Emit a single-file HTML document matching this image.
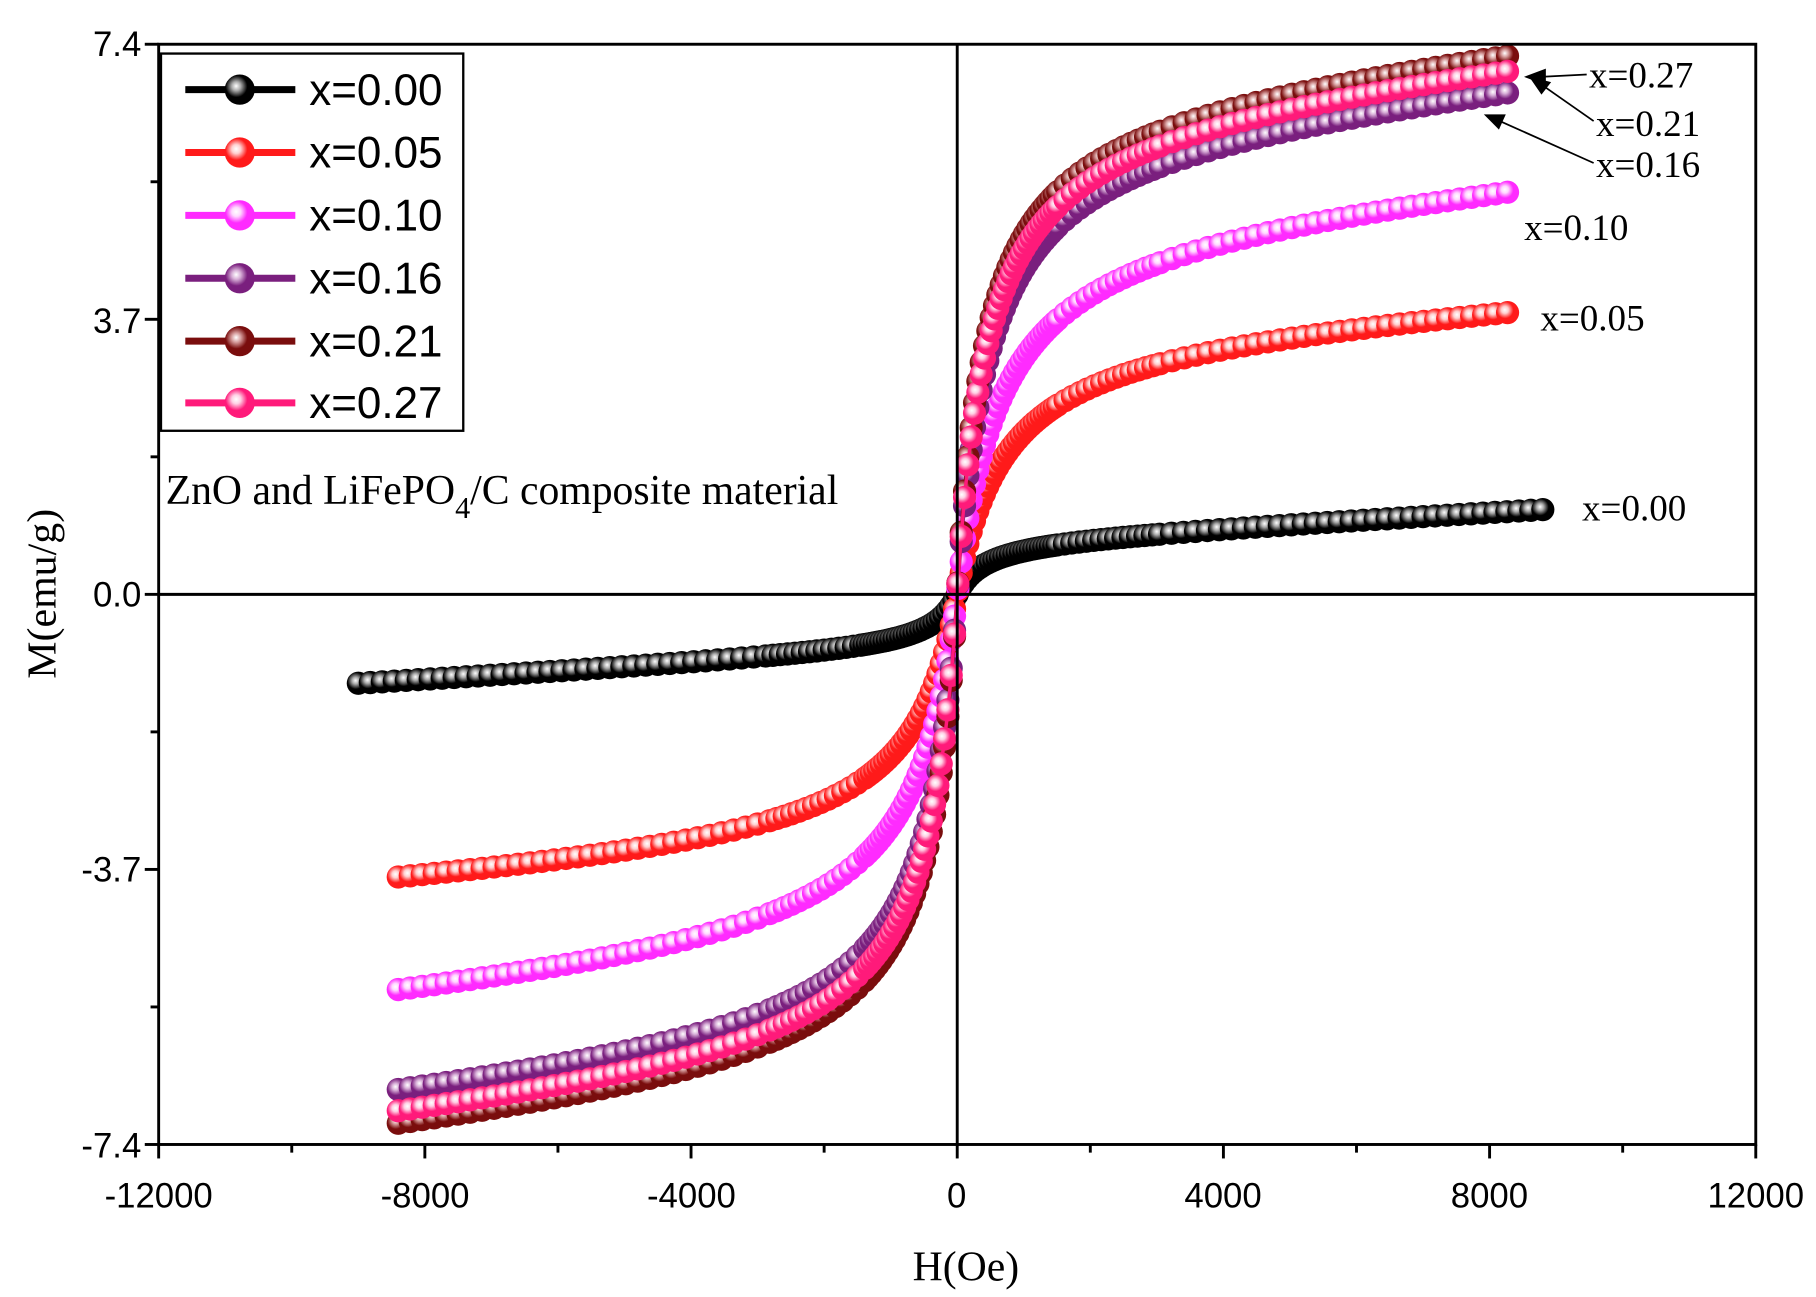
<!DOCTYPE html>
<html><head><meta charset="utf-8"><style>html,body{margin:0;padding:0;background:#fff;overflow:hidden}svg{display:block}</style></head>
<body>
<svg id="s" width="1816" height="1297" viewBox="0 0 1568 1114" preserveAspectRatio="none" xmlns="http://www.w3.org/2000/svg">
<defs>
<radialGradient id="g0" cx="0.4" cy="0.4" r="0.6" fx="0.38" fy="0.38"><stop offset="0" stop-color="#fff"/><stop offset="0.25" stop-color="#aaaaaa"/><stop offset="0.6" stop-color="#000"/><stop offset="1" stop-color="#000"/></radialGradient>
<radialGradient id="g1" cx="0.4" cy="0.4" r="0.6" fx="0.38" fy="0.38"><stop offset="0" stop-color="#fff"/><stop offset="0.25" stop-color="#ffd0d0"/><stop offset="0.6" stop-color="#ff1a1a"/><stop offset="1" stop-color="#ff1a1a"/></radialGradient>
<radialGradient id="g2" cx="0.4" cy="0.4" r="0.6" fx="0.38" fy="0.38"><stop offset="0" stop-color="#fff"/><stop offset="0.25" stop-color="#ffd8ff"/><stop offset="0.6" stop-color="#ff2bff"/><stop offset="1" stop-color="#ff2bff"/></radialGradient>
<radialGradient id="g3" cx="0.4" cy="0.4" r="0.6" fx="0.38" fy="0.38"><stop offset="0" stop-color="#fff"/><stop offset="0.25" stop-color="#d8b0d8"/><stop offset="0.6" stop-color="#7a1f7e"/><stop offset="1" stop-color="#7a1f7e"/></radialGradient>
<radialGradient id="g4" cx="0.4" cy="0.4" r="0.6" fx="0.38" fy="0.38"><stop offset="0" stop-color="#fff"/><stop offset="0.25" stop-color="#d8a0a0"/><stop offset="0.6" stop-color="#7a0d0d"/><stop offset="1" stop-color="#7a0d0d"/></radialGradient>
<radialGradient id="g5" cx="0.4" cy="0.4" r="0.6" fx="0.38" fy="0.38"><stop offset="0" stop-color="#fff"/><stop offset="0.25" stop-color="#ffd0e4"/><stop offset="0.6" stop-color="#ff1a7a"/><stop offset="1" stop-color="#ff1a7a"/></radialGradient>
</defs>
<rect x="0" y="0" width="1568" height="1114" fill="#fff"/>
<g id="curves"></g>
<g stroke="#000" stroke-width="2.5" fill="none">
<rect x="137" y="38" width="1379" height="945"/>
<line x1="826.5" y1="38" x2="826.5" y2="983"/>
<line x1="137" y1="510.5" x2="1516" y2="510.5"/>
</g>
<g id="ticks" stroke="#000" stroke-width="2.5"></g>
<g font-family="Liberation Sans, sans-serif" font-size="30" text-anchor="end">
<text x="122" y="48">7.4</text><text x="122" y="286">3.7</text><text x="122" y="521">0.0</text><text x="122" y="757">-3.7</text><text x="122" y="994">-7.4</text>
</g>
<g font-family="Liberation Sans, sans-serif" font-size="30" text-anchor="middle">
<text x="137" y="1037">-12000</text><text x="367" y="1037">-8000</text><text x="597" y="1037">-4000</text><text x="826" y="1037">0</text><text x="1056" y="1037">4000</text><text x="1286" y="1037">8000</text><text x="1516" y="1037">12000</text>
</g>
<text x="834" y="1100" font-family="Liberation Serif, serif" font-size="36" text-anchor="middle">H(Oe)</text>
<text transform="translate(48,510) rotate(-90)" font-family="Liberation Serif, serif" font-size="36" text-anchor="middle">M(emu/g)</text>
<text x="143" y="433" font-family="Liberation Serif, serif" font-size="36">ZnO and LiFePO<tspan font-size="26" dy="12">4</tspan><tspan dy="-12">/C composite material</tspan></text>
<g font-family="Liberation Serif, serif" font-size="32">
<text x="1372" y="75">x=0.27</text><text x="1378" y="117">x=0.21</text><text x="1378" y="152">x=0.16</text>
<text x="1316" y="206">x=0.10</text><text x="1330" y="284">x=0.05</text><text x="1366" y="447">x=0.00</text>
</g>
<g stroke="#000" stroke-width="1.5" fill="#000">
<line x1="1370" y1="64" x2="1330" y2="66"/><polygon points="1318,66 1334,60 1334,72"/>
<line x1="1376" y1="104" x2="1330" y2="72"/><polygon points="1322,67 1338,71 1331,80"/>
<line x1="1376" y1="140" x2="1295" y2="104"/><polygon points="1283,99 1299,99 1294,110"/>
</g>
<rect x="139" y="46" width="261" height="324" fill="#fff" stroke="#000" stroke-width="2"/>
<g font-family="Liberation Sans, sans-serif" font-size="38">
<line x1="160" y1="77" x2="255" y2="77" stroke="#000" stroke-width="6"/><circle cx="207" cy="77" r="13" fill="url(#g0)"/><text x="267" y="90">x=0.00</text>
<line x1="160" y1="131" x2="255" y2="131" stroke="#ff1a1a" stroke-width="6"/><circle cx="207" cy="131" r="13" fill="url(#g1)"/><text x="267" y="144">x=0.05</text>
<line x1="160" y1="185" x2="255" y2="185" stroke="#ff2bff" stroke-width="6"/><circle cx="207" cy="185" r="13" fill="url(#g2)"/><text x="267" y="198">x=0.10</text>
<line x1="160" y1="239" x2="255" y2="239" stroke="#7a1f7e" stroke-width="6"/><circle cx="207" cy="239" r="13" fill="url(#g3)"/><text x="267" y="252">x=0.16</text>
<line x1="160" y1="293" x2="255" y2="293" stroke="#7a0d0d" stroke-width="6"/><circle cx="207" cy="293" r="13" fill="url(#g4)"/><text x="267" y="306">x=0.21</text>
<line x1="160" y1="346" x2="255" y2="346" stroke="#ff1a7a" stroke-width="6"/><circle cx="207" cy="346" r="13" fill="url(#g5)"/><text x="267" y="359">x=0.27</text>
</g>
</svg>
<script>
var NS="http://www.w3.org/2000/svg";
function mk(A,h0,b,ap,an){return function(H){var s=H>=0?ap:an;return s*(A*H/(Math.abs(H)+h0)+b*H);};}
var series=[
 {c:"#000000",f:mk(0.75,400,4.8e-5,1,1.04),lo:-9000,hi2:8900},
 {c:"#ff1a1a",f:mk(3.6,700,5.7e-5,1,1),lo:-8400,hi2:8400},
 {c:"#ff2bff",f:mk(3.6*1.42,650,5.7e-5*1.42,1,0.98),lo:-8400,hi2:8400},
 {c:"#7a1f7e",f:mk(3.6*1.76,480,5.2e-5*1.76,1,0.985),lo:-8400,hi2:8400},
 {c:"#7a0d0d",f:mk(3.6*1.88,430,5.2e-5*1.88,1,0.98),lo:-8400,hi2:8400},
 {c:"#ff1a7a",f:mk(3.6*1.83,450,5.2e-5*1.83,1,0.985),lo:-8400,hi2:8400}
];
function X(h){return 826.5+h*1379/24000}function Y(m){return 510.5-m*63.85}
var cg=document.getElementById('curves');
for(var i=0;i<series.length;i++){
 var se=series[i],pts=[],H=se.lo;
 while(H<=se.hi2){pts.push(H);var a=Math.abs(H);H+=(a<1500?50:(a<3000?110:180));}
 var d='';
 for(var k=0;k<pts.length;k++){d+=(k?'L':'M')+X(pts[k]).toFixed(1)+' '+Y(se.f(pts[k])).toFixed(1);}
 var p=document.createElementNS(NS,'path');p.setAttribute('d',d);p.setAttribute('stroke',se.c);p.setAttribute('stroke-width','3');p.setAttribute('fill','none');cg.appendChild(p);
 for(var k=0;k<pts.length;k++){var c=document.createElementNS(NS,'circle');c.setAttribute('cx',X(pts[k]));c.setAttribute('cy',Y(se.f(pts[k])));c.setAttribute('r','10');c.setAttribute('fill','url(#g'+i+')');cg.appendChild(c);}
}
var t=document.getElementById('ticks');
function ln(x1,y1,x2,y2){var l=document.createElementNS(NS,'line');l.setAttribute('x1',x1);l.setAttribute('y1',y1);l.setAttribute('x2',x2);l.setAttribute('y2',y2);t.appendChild(l);}
for(var v=-12000;v<=12000;v+=2000){var x=X(v),L=(v%4000==0)?12:7;ln(x,983,x,983+L);}
for(var j=0;j<=8;j++){var y=38+j*945/8,L=(j%2==0)?12:7;ln(137,y,137-L,y);}
</script>
</body></html>
